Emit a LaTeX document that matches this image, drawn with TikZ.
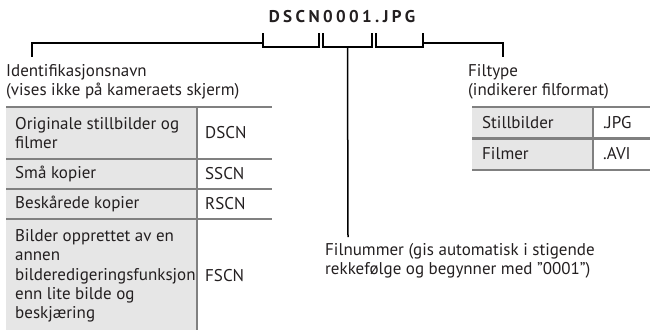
\documentclass[tikz,border=0pt]{standalone}
\usepackage{fontspec}
\setmainfont{PT Sans}
\newfontfamily\namefont[LetterSpace=20]{PT Sans}
\usepackage{xcolor}
\usepackage{tikz}
\usetikzlibrary{positioning, calc}
\definecolor{cellgray}{HTML}{E6E6E6}
\definecolor{rulegray}{HTML}{808080}
\definecolor{textgray}{HTML}{231F20}

\begin{document}
\begin{tikzpicture}[x=1pt, y=-1pt, text=textgray,
    lbl/.style={anchor=west, inner sep=0pt, align=left, font=\fontsize{17}{19.3}\selectfont},
    bracket/.style={line width=1.5pt, black},
    rule/.style={line width=2.5pt, rulegray}]
  \useasboundingbox (0,0) rectangle (650,330);

  % file name and the brackets under it
  \node[inner sep=0pt, font=\namefont\bfseries\fontsize{17}{20}\selectfont] (fname) at (342,17) {DSCN0001.JPG};
  \coordinate (dscnL) at (263,33);  \coordinate (dscnR) at (319,33);
  \coordinate (numL) at (323,33);   \coordinate (numR) at (372,33);
  \coordinate (typeL) at (376,33);  \coordinate (typeR) at (423,33);
  \coordinate (idend) at (32,57);   \coordinate (typeend) at (503,57);
  \coordinate (numend) at (348,237);
  \draw[bracket] (dscnL) -- ++(0,14) -| (dscnR);
  \draw[bracket] (numL) -- ++(0,14) -| (numR);
  \draw[bracket] (typeL) -- ++(0,14) -| (typeR);
  \draw[bracket] ($(dscnL)+(0,10)$) -| (idend);
  \draw[bracket] ($(typeR)+(0,10)$) -| (typeend);
  \draw[bracket] ($(numL)!0.5!(numR)+(0,14)$) -- (numend);

  \node[lbl] (idname) at (6,82) {Identifikasjonsnavn\\(vises ikke på kameraets skjerm)};
  \node[lbl] (ftype) at (468,82) {Filtype\\(indikerer filformat)};
  \node[lbl] (fnum) at (325,261) {Filnummer (gis automatisk i stigende\\rekkefølge og begynner med "0001")};

  % table of name prefixes
  \fill[cellgray] (6,107) rectangle (197,330);
  \draw[rule] (197,107) -- (197,330);
  \foreach \y in {107,159,189,219}
    \draw[rule] (6,\y) -- (272,\y);
  \node[lbl] (orig) at (15,133) {Originale stillbilder og\\filmer};
  \node[lbl] (origcode) at (205,133) {DSCN};
  \node[lbl] (small) at (15,174) {Små kopier};
  \node[lbl] (smallcode) at (205,174) {SSCN};
  \node[lbl] (crop) at (15,204) {Beskårede kopier};
  \node[lbl] (cropcode) at (205,204) {RSCN};
  \node[lbl] (other) at (15,276) {Bilder opprettet av en\\annen\\bilderedigeringsfunksjon\\enn lite bilde og\\beskjæring};
  \node[lbl] (othercode) at (205,276) {FSCN};

  % table of file types
  \fill[cellgray] (472,107) rectangle (593,170);
  \draw[rule] (593,107) -- (593,170);
  \foreach \y in {107,138.5,170}
    \draw[rule] (472,\y) -- (650,\y);
  \node[lbl] (still) at (482,122.5) {Stillbilder};
  \node[lbl] (stillcode) at (603,122.5) {.JPG};
  \node[lbl] (movie) at (482,154) {Filmer};
  \node[lbl] (moviecode) at (603,154) {.AVI};
\end{tikzpicture}
\end{document}
